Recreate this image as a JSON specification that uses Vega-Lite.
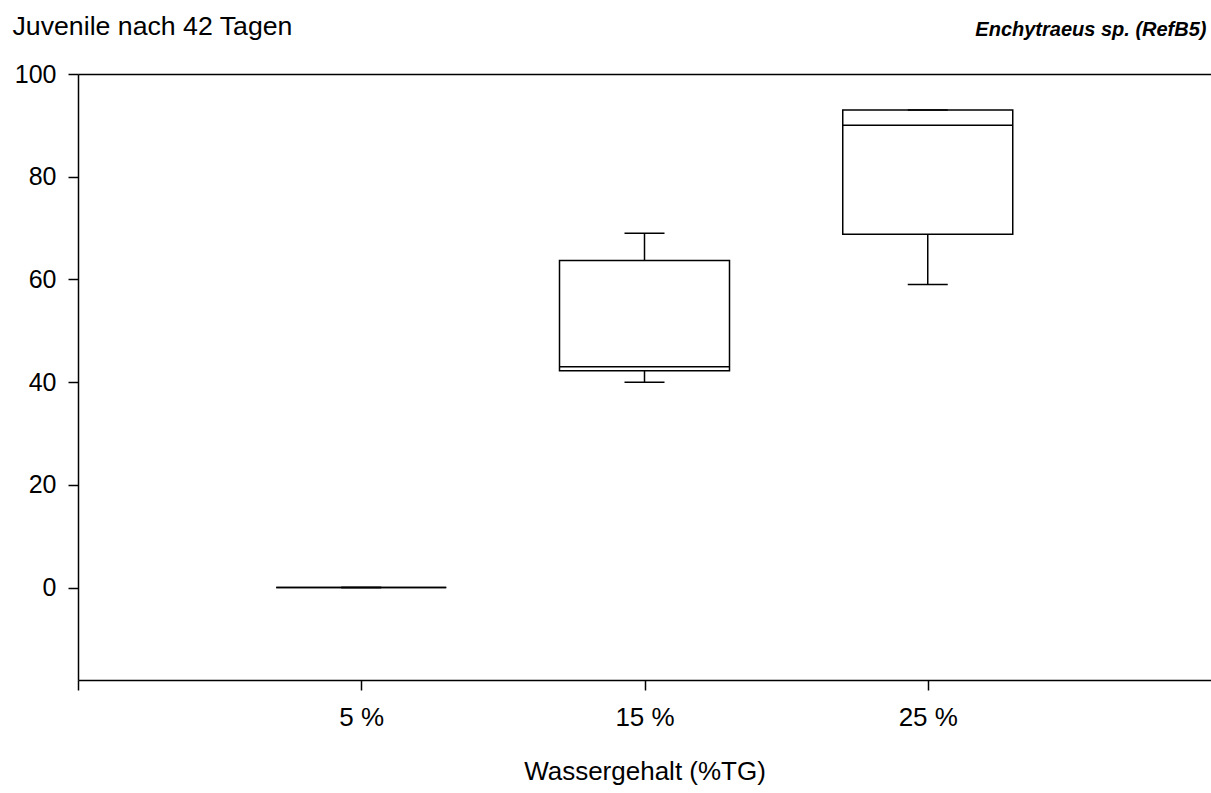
{
  "$schema": "https://vega.github.io/schema/vega-lite/v6.json",
  "autosize": "none",
  "width": 1133,
  "height": 606,
  "padding": {"left": 78, "top": 74, "right": 0, "bottom": 113},
  "background": "white",
  "config": {
    "font": "Liberation Sans",
    "view": {"stroke": null},
    "axis": {"domainColor": "black", "tickColor": "black", "labelColor": "black", "titleColor": "black", "grid": false, "domainWidth": 1.5, "tickWidth": 1.5, "offset": 0}
  },
  "data": {
    "values": [
      {"group": "5 %", "pos": 1, "low": 0, "q1": 0, "median": 0, "q3": 0, "high": 0},
      {"group": "15 %", "pos": 2, "low": 40, "q1": 42.2, "median": 43, "q3": 63.7, "high": 69},
      {"group": "25 %", "pos": 3, "low": 59, "q1": 68.8, "median": 90, "q3": 93, "high": 93}
    ]
  },
  "resolve": {"axis": {"x": "independent"}},
  "layer": [
    {
      "mark": {"type": "rule", "color": "black", "strokeWidth": 1.5},
      "encoding": {
        "x": {
          "field": "pos", "type": "quantitative",
          "scale": {"domain": [0, 4], "nice": false, "zero": false, "padding": 0},
          "axis": {
            "orient": "bottom",
            "offset": 0,
            "values": [0, 1, 2, 3],
            "labelExpr": "datum.value == 1 ? '5 %' : datum.value == 2 ? '15 %' : datum.value == 3 ? '25 %' : ''",
            "tickSize": 10,
            "labelFontSize": 26,
            "labelPadding": 14,
            "title": "Wassergehalt (%TG)",
            "titleFontSize": 26,
            "titleFontWeight": "normal",
            "titlePadding": 28
          }
        },
        "y": {
          "field": "low", "type": "quantitative",
          "scale": {"domain": [-18, 100], "nice": false, "zero": false, "padding": 0},
          "axis": {
            "values": [0, 20, 40, 60, 80, 100],
            "offset": 0,
            "tickSize": 10,
            "labelFontSize": 25,
            "labelPadding": 12,
            "title": "Juvenile nach 42 Tagen",
            "titleAngle": 0,
            "titleAlign": "left",
            "titleBaseline": "alphabetic",
            "titleX": -66,
            "titleY": -40,
            "titleFontSize": 26.7,
            "titleFontWeight": "normal"
          }
        },
        "y2": {"field": "q1"}
      }
    },
    {
      "mark": {"type": "rule", "color": "black", "strokeWidth": 1.5},
      "encoding": {
        "x": {
          "field": "pos", "type": "quantitative",
          "axis": {
            "orient": "top", "labels": false, "ticks": false, "offset": 0,
            "title": "Enchytraeus sp. (RefB5)",
            "titleFontSize": 20,
            "titleFontStyle": "italic",
            "titleFontWeight": "bold",
            "titleAlign": "right",
            "titleAnchor": null,
            "titleBaseline": "alphabetic",
            "titleX": 1128,
            "titleY": -39
          }
        },
        "y": {"field": "q3", "type": "quantitative"},
        "y2": {"field": "high"}
      }
    },
    {
      "mark": {"type": "bar", "width": 170, "fill": "white", "stroke": "black", "strokeWidth": 1.5},
      "encoding": {
        "x": {"field": "pos", "type": "quantitative", "axis": null},
        "y": {"field": "q1", "type": "quantitative"},
        "y2": {"field": "q3"}
      }
    },
    {
      "mark": {"type": "tick", "orient": "horizontal", "size": 170, "thickness": 1.5, "color": "black", "opacity": 1},
      "encoding": {
        "x": {"field": "pos", "type": "quantitative", "axis": null},
        "y": {"field": "median", "type": "quantitative"}
      }
    },
    {
      "mark": {"type": "tick", "orient": "horizontal", "size": 40, "thickness": 1.5, "color": "black", "opacity": 1},
      "encoding": {
        "x": {"field": "pos", "type": "quantitative", "axis": null},
        "y": {"field": "low", "type": "quantitative"}
      }
    },
    {
      "mark": {"type": "tick", "orient": "horizontal", "size": 40, "thickness": 1.5, "color": "black", "opacity": 1},
      "encoding": {
        "x": {"field": "pos", "type": "quantitative", "axis": null},
        "y": {"field": "high", "type": "quantitative"}
      }
    }
  ]
}
